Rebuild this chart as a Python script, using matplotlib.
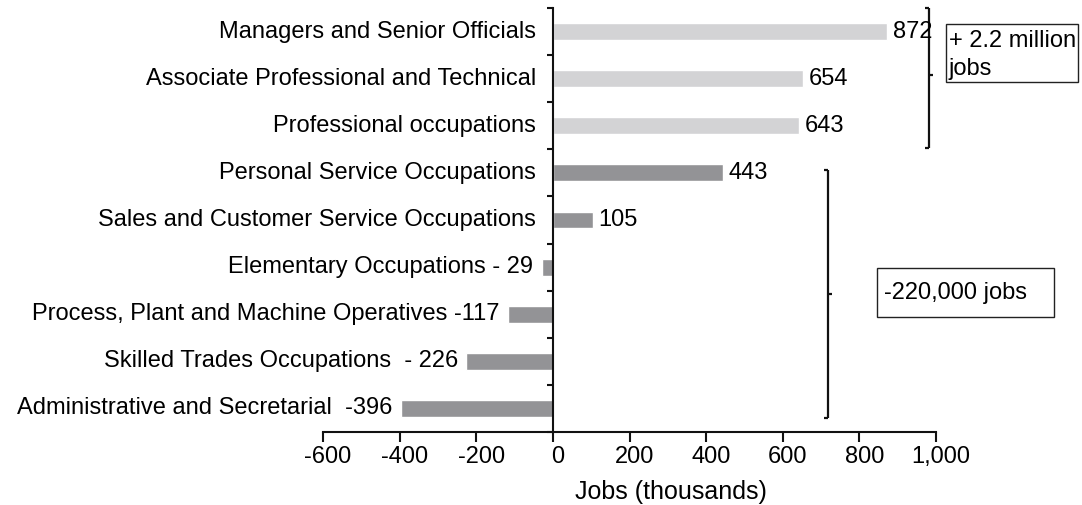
import matplotlib
matplotlib.use("Agg")
import matplotlib.pyplot as plt
import matplotlib.transforms as mtransforms
from matplotlib.patches import Rectangle

plt.rcParams['font.family'] = ['Liberation Sans', 'DejaVu Sans']

categories = [
    "Managers and Senior Officials",
    "Associate Professional and Technical",
    "Professional occupations",
    "Personal Service Occupations",
    "Sales and Customer Service Occupations",
    "Elementary Occupations",
    "Process, Plant and Machine Operatives",
    "Skilled Trades Occupations",
    "Administrative and Secretarial",
]
values = [872, 654, 643, 443, 105, -29, -117, -226, -396]
value_labels = ["872", "654", "643", "443", "105", "- 29", "-117", " - 226", " -396"]
groups = ["high", "high", "high", "low", "low", "low", "low", "low", "low"]
group_colors = {"high": "#d3d3d5", "low": "#939396"}
xticks = [-600, -400, -200, 0, 200, 400, 600, 800, 1000]
xtick_labels = ["-600", "-400", "-200", "0", "200", "400", "600", "800", "1,000"]
xlabel = "Jobs (thousands)"
box_upper = "+ 2.2 million\njobs"
box_lower = "-220,000 jobs"

W, H = 1082, 505
fig = plt.figure(figsize=(W / 100, H / 100), dpi=100)
ax = fig.add_axes([323 / W, 1 - 432 / H, (936 - 323) / W, (432 - 8) / H])

FS = 17
ypos = list(range(len(categories)))
colors = [group_colors[g] for g in groups]
ax.barh(ypos, values, height=0.36, color=colors, edgecolor="white", linewidth=1.0, zorder=2)

ax.set_xlim(-600, 1000)
ax.set_ylim(len(categories) - 0.5, -0.5)

for y, v, c, vl in zip(ypos, values, categories, value_labels):
    if v >= 0:
        ax.annotate(c, xy=(0, y), xytext=(-12, 0), textcoords="offset points",
                    ha="right", va="center", fontsize=FS)
        ax.annotate(vl, xy=(v, y), xytext=(4, 0), textcoords="offset points",
                    ha="left", va="center", fontsize=FS)
    else:
        ax.annotate(f"{c} {vl}", xy=(v, y), xytext=(-6, 0), textcoords="offset points",
                    ha="right", va="center", fontsize=FS)

# spines
for s in ["top", "right"]:
    ax.spines[s].set_visible(False)
ax.spines["left"].set_position(("data", 0))
for s in ["left", "bottom"]:
    ax.spines[s].set_linewidth(1.5)
    ax.spines[s].set_color("#111111")

ax.set_yticks([y - 0.5 for y in ypos] + [len(categories) - 0.5])
ax.set_yticklabels([])
ax.tick_params(axis="y", length=4, width=1.5, direction="out", color="#111111")
ax.set_xticks(xticks)
ax.set_xticklabels(xtick_labels, fontsize=17)
ax.tick_params(axis="x", length=7, width=1.5, direction="out", pad=3, color="#111111")
shift = mtransforms.ScaledTranslation(5 / 100, 0, fig.dpi_scale_trans)
for lbl in ax.get_xticklabels():
    lbl.set_transform(lbl.get_transform() + shift)
ax.set_xlabel(xlabel, fontsize=18)
ax.xaxis.set_label_coords((671 - 323) / 613, -(492 - 432) / 424)
ax.xaxis.label.set_va("center")

# brackets (axes fraction coordinates)
def bracket(x, y0, y1, ym):
    kw = dict(transform=ax.transAxes, color="#111111", lw=1.6, clip_on=False,
              solid_capstyle="butt")
    ax.plot([x, x], [y0, y1], **kw)
    d = 4 / 613
    ax.plot([x - d, x], [y0, y0], **kw)
    ax.plot([x - d, x], [y1, y1], **kw)
    ax.plot([x, x + d], [ym, ym], **kw)

bracket((929 - 323) / 613, (432 - 148) / 424, 1.0, (432 - 75) / 424)
bracket((828 - 323) / 613, (432 - 418) / 424, (432 - 170) / 424, (432 - 294) / 424)

# text boxes (figure pixel coordinates)
def fbox(x0, y0, x1, y1):
    fig.patches.append(Rectangle((x0 / W, 1 - y1 / H), (x1 - x0) / W, (y1 - y0) / H,
                                 transform=fig.transFigure, fill=False,
                                 edgecolor="#222222", lw=1.0))

fbox(946, 24, 1078, 82)
fig.text(949 / W, 1 - 55 / H, box_upper, ha="left", va="center", fontsize=FS,
         linespacing=1.3)
fbox(877, 268, 1054, 317)
fig.text(884 / W, 1 - 293 / H, box_lower, ha="left", va="center", fontsize=FS)

fig.savefig("out.png", dpi=100)
